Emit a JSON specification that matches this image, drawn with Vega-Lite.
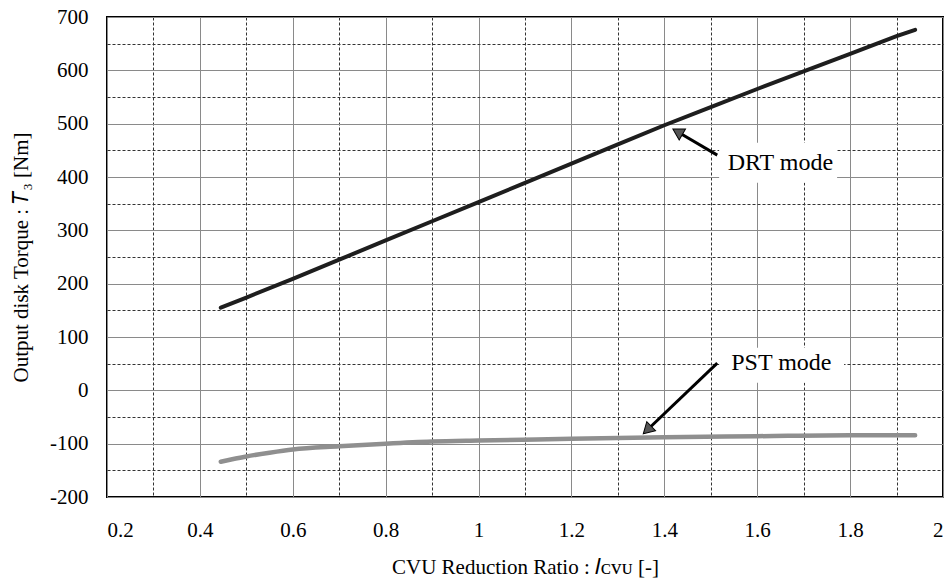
{
  "$schema": "https://vega.github.io/schema/vega-lite/v6.json",
  "width": 836,
  "height": 480,
  "autosize": {"type": "none"},
  "padding": {"left": 107, "top": 17, "right": 9, "bottom": 87},
  "background": "white",
  "config": {
    "view": {"stroke": "black", "strokeWidth": 2},
    "font": "Liberation Serif, Times New Roman, serif",
    "axis": {
      "labelFont": "Liberation Serif, Times New Roman, serif",
      "titleFont": "Liberation Serif, Times New Roman, serif",
      "labelFontSize": 21,
      "titleFontSize": 21,
      "labelColor": "black",
      "titleColor": "black",
      "titleFontWeight": "normal",
      "ticks": false,
      "domain": false,
      "grid": true,
      "gridOpacity": 1,
      "gridWidth": 1
    }
  },
  "datasets": {
    "drt": [
      {"ratio": 0.445, "torque": 155}, {"ratio": 0.5, "torque": 174}, {"ratio": 0.6, "torque": 209},
      {"ratio": 0.7, "torque": 245}, {"ratio": 0.8, "torque": 281}, {"ratio": 0.9, "torque": 317},
      {"ratio": 1.0, "torque": 353}, {"ratio": 1.1, "torque": 389}, {"ratio": 1.2, "torque": 425},
      {"ratio": 1.3, "torque": 461}, {"ratio": 1.4, "torque": 497}, {"ratio": 1.5, "torque": 531},
      {"ratio": 1.6, "torque": 565}, {"ratio": 1.7, "torque": 598}, {"ratio": 1.8, "torque": 631},
      {"ratio": 1.9, "torque": 664}, {"ratio": 1.94, "torque": 676}
    ],
    "pst": [
      {"ratio": 0.445, "torque": -134}, {"ratio": 0.5, "torque": -124}, {"ratio": 0.55, "torque": -117},
      {"ratio": 0.6, "torque": -111}, {"ratio": 0.7, "torque": -105}, {"ratio": 0.8, "torque": -100},
      {"ratio": 0.9, "torque": -96}, {"ratio": 1.0, "torque": -94}, {"ratio": 1.2, "torque": -91},
      {"ratio": 1.4, "torque": -88}, {"ratio": 1.6, "torque": -86}, {"ratio": 1.8, "torque": -84},
      {"ratio": 1.94, "torque": -84}
    ],
    "boxes": [
      {"label": "DRT mode", "x1": 1.518, "x2": 1.772, "y1": 389, "y2": 464},
      {"label": "PST mode", "x1": 1.518, "x2": 1.787, "y1": 14, "y2": 80}
    ],
    "shafts": [
      {"label": "DRT mode", "x1": 1.514, "y1": 441, "x2": 1.432, "y2": 483},
      {"label": "PST mode", "x1": 1.514, "y1": 51, "x2": 1.366, "y2": -72}
    ],
    "heads": [
      {"label": "DRT mode", "ratio": 1.432, "torque": 483},
      {"label": "PST mode", "ratio": 1.366, "torque": -72}
    ],
    "labels": [
      {"label": "DRT mode", "ratio": 1.65, "torque": 426},
      {"label": "PST mode", "ratio": 1.652, "torque": 51}
    ]
  },
  "encoding": {
    "x": {
      "type": "quantitative",
      "scale": {"domain": [0.2, 2], "nice": false, "zero": false},
      "axis": {
        "title": "CVU Reduction Ratio : 𝐼ᴄᴠᴜ [-]",
        "values": [0.2, 0.3, 0.4, 0.5, 0.6, 0.7, 0.8, 0.9, 1.0, 1.1, 1.2, 1.3, 1.4, 1.5, 1.6, 1.7, 1.8, 1.9, 2.0],
        "labelExpr": "round(datum.value*10) % 2 == 1 ? '' : format(datum.value, '~g')",
        "labelPadding": 22,
        "titlePadding": 16,
        "gridDash": {"condition": {"test": "round(datum.value*10) % 2 == 1", "value": [3, 2]}, "value": []},
        "gridColor": {"condition": {"test": "round(datum.value*10) % 2 == 1", "value": "#333333"}, "value": "#8a8a8a"}
      }
    },
    "y": {
      "type": "quantitative",
      "scale": {"domain": [-200, 700], "nice": false, "zero": false},
      "axis": {
        "title": "Output disk Torque : 𝑇₃ [Nm]",
        "values": [-200, -150, -100, -50, 0, 50, 100, 150, 200, 250, 300, 350, 400, 450, 500, 550, 600, 650, 700],
        "labelExpr": "datum.value % 100 != 0 ? '' : replace(datum.label, '−', '-')",
        "labelPadding": 19,
        "titlePadding": 18,
        "gridDash": {"condition": {"test": "datum.value % 100 != 0", "value": [3, 2]}, "value": []},
        "gridColor": {"condition": {"test": "datum.value % 100 != 0", "value": "#333333"}, "value": "#8a8a8a"}
      }
    }
  },
  "layer": [
    {
      "mark": {"type": "rule", "color": "black", "strokeWidth": 2},
      "encoding": {"y": {"datum": 0, "type": "quantitative"}}
    },
    {
      "data": {"name": "boxes"},
      "mark": {"type": "rect", "fill": "white", "stroke": null},
      "encoding": {
        "x": {"field": "x1", "type": "quantitative"},
        "x2": {"field": "x2"},
        "y": {"field": "y1", "type": "quantitative"},
        "y2": {"field": "y2"}
      }
    },
    {
      "data": {"name": "pst"},
      "mark": {"type": "line", "color": "#8f8f8f", "strokeWidth": 4.5, "strokeCap": "round", "interpolate": "monotone"},
      "encoding": {
        "x": {"field": "ratio", "type": "quantitative"},
        "y": {"field": "torque", "type": "quantitative"}
      }
    },
    {
      "data": {"name": "drt"},
      "mark": {"type": "line", "color": "#1e1e1e", "strokeWidth": 4, "strokeCap": "round"},
      "encoding": {
        "x": {"field": "ratio", "type": "quantitative"},
        "y": {"field": "torque", "type": "quantitative"}
      }
    },
    {
      "data": {"name": "shafts"},
      "mark": {"type": "rule", "color": "black", "strokeWidth": 3},
      "encoding": {
        "x": {"field": "x1", "type": "quantitative"},
        "y": {"field": "y1", "type": "quantitative"},
        "x2": {"field": "x2"},
        "y2": {"field": "y2"}
      }
    },
    {
      "data": {"name": "heads"},
      "transform": [{"filter": "datum.label == 'DRT mode'"}],
      "mark": {"type": "point", "shape": "triangle", "filled": true, "fill": "#555555", "stroke": "black", "strokeWidth": 1, "opacity": 1, "size": 160, "angle": 300},
      "encoding": {
        "x": {"field": "ratio", "type": "quantitative"},
        "y": {"field": "torque", "type": "quantitative"}
      }
    },
    {
      "data": {"name": "heads"},
      "transform": [{"filter": "datum.label == 'PST mode'"}],
      "mark": {"type": "point", "shape": "triangle", "filled": true, "fill": "#555555", "stroke": "black", "strokeWidth": 1, "opacity": 1, "size": 160, "angle": 226},
      "encoding": {
        "x": {"field": "ratio", "type": "quantitative"},
        "y": {"field": "torque", "type": "quantitative"}
      }
    },
    {
      "data": {"name": "labels"},
      "mark": {"type": "text", "font": "Liberation Serif, Times New Roman, serif", "fontSize": 24, "color": "black", "align": "center", "baseline": "middle"},
      "encoding": {
        "x": {"field": "ratio", "type": "quantitative"},
        "y": {"field": "torque", "type": "quantitative"},
        "text": {"field": "label"}
      }
    }
  ]
}
